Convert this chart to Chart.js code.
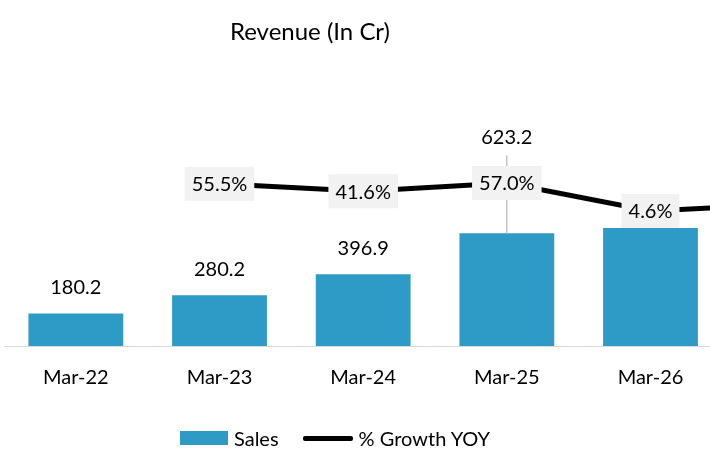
<!DOCTYPE html>
<html>
<head>
<meta charset="utf-8">
<script src="https://cdn.jsdelivr.net/npm/chart.js@4"></script>
<style>
  html, body { margin: 0; padding: 0; background: #fff; overflow: hidden; }
  #wrap { position: relative; width: 710px; height: 468px; overflow: hidden; font-family: Lato, "Open Sans", sans-serif; }
  #chart-box { position: absolute; left: 0; top: 0; width: 866px; height: 468px; }
  #title { position: absolute; left: 0; width: 620px; top: 16px; text-align: center; font-size: 24px; color: #000; }
  #legend { position: absolute; top: 426px; left: 180px; font-size: 20px; color: #000; display: flex; align-items: center; }
  .sw-bar { width: 48px; height: 14px; background: #2e9bc6; display: inline-block; margin-right: 6px; }
  .sw-line { width: 50px; height: 5px; background: #000; display: inline-block; margin: 0 6px 0 24px; border-radius: 2px; }
</style>
</head>
<body>
<div id="wrap">
  <div id="chart-box"><canvas id="revenue-chart" width="866" height="468"></canvas></div>
  <div id="title">Revenue (In Cr)</div>
  <div id="legend"><span class="sw-bar"></span>Sales<span class="sw-line"></span>% Growth YOY</div>
</div>
<script>
// chart data
var categories = ["Mar-22", "Mar-23", "Mar-24", "Mar-25", "Mar-26", "Mar-27"];
var sales = [180.2, 280.2, 396.9, 623.2, 651.9, null];
var growth = [null, 55.5, 41.6, 57.0, 4.6, 18];
var salesLabels = ["180.2", "280.2", "396.9", "623.2", "", ""];
var growthLabels = ["", "55.5%", "41.6%", "57.0%", "4.6%", ""];

var labelPlugin = {
  id: 'labels',
  afterDatasetDraw: function(chart, args) {
    var ctx = chart.ctx;
    ctx.save();
    ctx.font = '20px Lato, "Open Sans", sans-serif';
    ctx.textAlign = 'center';
    ctx.textBaseline = 'middle';
    if (args.index === 0) {
      var bars = chart.getDatasetMeta(0).data;
      bars.forEach(function(bar, i) {
        if (!salesLabels[i]) return;
        var y = bar.y - 26;
        if (i === 3) {
          y = bar.y - 96;
          ctx.strokeStyle = '#a6a6a6';
          ctx.lineWidth = 1;
          ctx.beginPath();
          ctx.moveTo(bar.x, bar.y);
          ctx.lineTo(bar.x, y + 18);
          ctx.stroke();
        }
        ctx.fillStyle = '#000';
        ctx.fillText(salesLabels[i], bar.x, y);
      });
    }
    if (args.index === 1) {
      var pts = chart.getDatasetMeta(1).data;
      pts.forEach(function(p, i) {
        if (!growthLabels[i]) return;
        var w = ctx.measureText(growthLabels[i]).width + 14;
        ctx.fillStyle = '#f2f2f2';
        ctx.fillRect(p.x - w / 2, p.y - 17, w, 34);
        ctx.fillStyle = '#000';
        ctx.fillText(growthLabels[i], p.x, p.y + 1);
      });
    }
    ctx.restore();
  }
};

var ctx = document.getElementById('revenue-chart').getContext('2d');
new Chart(ctx, {
  type: 'bar',
  data: {
    labels: categories,
    datasets: [
      {
        label: 'Sales',
        data: sales,
        backgroundColor: '#2e9bc6',
        categoryPercentage: 0.66,
        barPercentage: 1,
        yAxisID: 'y',
        order: 2
      },
      {
        type: 'line',
        label: '% Growth YOY',
        data: growth,
        borderColor: '#000',
        borderWidth: 5,
        pointRadius: 0,
        tension: 0,
        yAxisID: 'y1',
        order: 1
      }
    ]
  },
  options: {
    responsive: false,
    animation: false,
    layout: { padding: { left: 4, right: 0, top: 129, bottom: 58 } },
    plugins: { legend: { display: false }, tooltip: { enabled: false } },
    scales: {
      x: {
        grid: { display: false, drawTicks: false },
        border: { color: '#d9d9d9', width: 1 },
        ticks: { color: '#000', font: { size: 20, family: 'Lato, "Open Sans", sans-serif' }, padding: 20 }
      },
      y: { display: false, min: 0, max: 1200 },
      y1: { display: false, min: -248, max: 158 }
    }
  },
  plugins: [labelPlugin]
});
</script>
</body>
</html>
